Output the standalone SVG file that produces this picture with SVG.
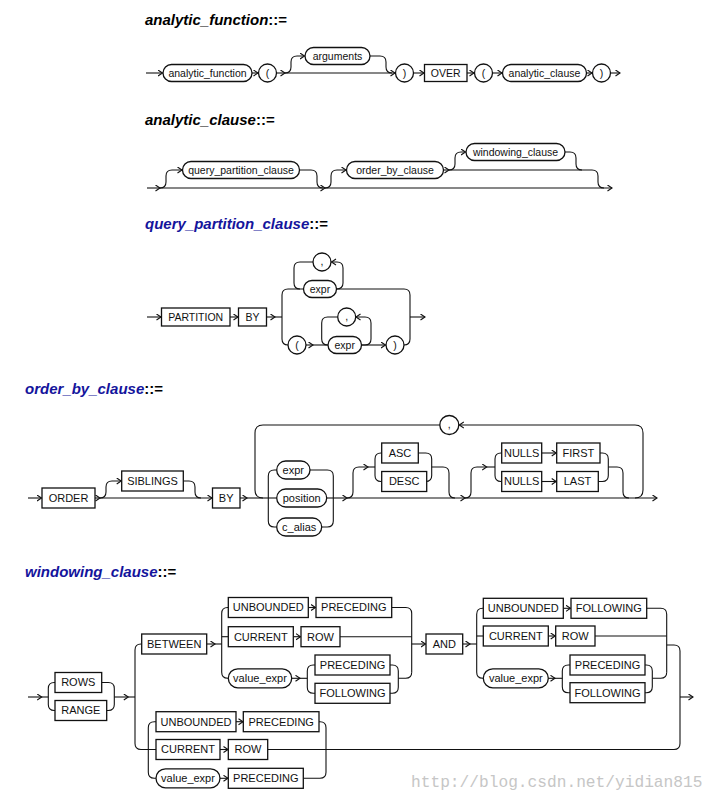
<svg xmlns="http://www.w3.org/2000/svg" width="717" height="802" viewBox="0 0 717 802">
<style>
.l{fill:none;stroke:#111;stroke-width:1.1}
.a{marker-end:url(#ar)}
.b{fill:#fff;stroke:#111;stroke-width:1.3}
.t{font-family:"Liberation Sans",Arial,sans-serif;font-size:10.5px;text-anchor:middle;fill:#111}
.u{font-family:"Liberation Sans",Arial,sans-serif;font-size:11px;text-anchor:middle;fill:#111}
.h{font-family:"Liberation Sans",Arial,sans-serif;font-size:15px;font-weight:bold;font-style:italic;fill:#000}
.bl{fill:#14149c}
.op{font-style:normal;fill:#000}
.wm{font-family:"Liberation Mono","DejaVu Sans Mono",monospace;font-size:16.2px;fill:#c6c6c6}
</style>
<defs>
<marker id="ar" markerUnits="userSpaceOnUse" markerWidth="8" markerHeight="8" refX="5" refY="3.5" orient="auto">
<path d="M0.5,0.5 L5,3.5 L0.5,6.5" fill="none" stroke="#111" stroke-width="1.1"/>
</marker>
</defs>
<rect width="717" height="802" fill="#fff"/>

<!-- titles -->
<text class="h" x="145" y="25">analytic_function<tspan class="op">::=</tspan></text>
<text class="h" x="145" y="124.5">analytic_clause<tspan class="op">::=</tspan></text>
<text class="h" x="145" y="229"><tspan class="bl">query_partition_clause</tspan><tspan class="op">::=</tspan></text>
<text class="h" x="25" y="394"><tspan class="bl">order_by_clause</tspan><tspan class="op">::=</tspan></text>
<text class="h" x="25" y="577"><tspan class="bl">windowing_clause</tspan><tspan class="op">::=</tspan></text>

<g id="connectors">
<!-- section 1 -->
<path class="l a" d="M146,73 H162.5"/>
<path class="l a" d="M252,73 H258"/>
<path class="l a" d="M276.5,73 H285"/>
<path class="l a" d="M285,73 H395"/>
<path class="l a" d="M285,73 Q291,73 291,67 V62 Q291,56 297,56 H304.5"/>
<path class="l" d="M370,56 H380 Q386,56 386,62 V67 Q386,73 392,73"/>
<path class="l a" d="M413.5,73 H424"/>
<path class="l a" d="M467,73 H474"/>
<path class="l a" d="M492.5,73 H502"/>
<path class="l a" d="M586.5,73 H592"/>
<path class="l a" d="M610.5,73 H620"/>
<!-- section 2 -->
<path class="l a" d="M147,188 H160"/>
<path class="l a" d="M160,188 H325"/>
<path class="l a" d="M325,188 H612"/>
<path class="l a" d="M160,188 Q166,188 166,182 V176 Q166,170 172,170 H182"/>
<path class="l" d="M299.5,170 H311 Q317,170 317,176 V182 Q317,188 323,188"/>
<path class="l a" d="M325,188 Q331,188 331,182 V176 Q331,170 337,170 H346"/>
<path class="l a" d="M443.5,170 H449"/>
<path class="l" d="M449,170 H592 Q598,170 598,176 V182 Q598,188 604,188"/>
<path class="l a" d="M449,170 Q455,170 455,164 V158 Q455,152 461,152 H465.5"/>
<path class="l" d="M565,152 H570 Q576,152 576,158 V164 Q576,170 582,170"/>
<!-- section 3 -->
<path class="l a" d="M147,317 H161"/>
<path class="l a" d="M230,317 H238"/>
<path class="l a" d="M266.5,317 H275"/>
<path class="l" d="M275,317 H282"/>
<path class="l" d="M303.5,289 H288 Q282,289 282,295 V339 Q282,345 288,345"/>
<path class="l a" d="M306,345 H313"/>
<path class="l" d="M313,345 H328"/>
<path class="l" d="M336.5,289 H404 Q410,289 410,295 V339 Q410,345 404,345"/>
<path class="l a" d="M410,317 H425"/>
<path class="l a" d="M336.5,289 Q343,289 343,283 V268 Q343,262 337,262 H331.5"/>
<path class="l" d="M313,262 H300 Q294,262 294,268 V283 Q294,289 300,289"/>
<path class="l a" d="M361.5,345 H365 Q371,345 371,339 V323 Q371,317 365,317 H356"/>
<path class="l" d="M337.7,317 H327.7 Q321.7,317 321.7,323 V339 Q321.7,345 327.7,345"/>
<path class="l a" d="M361.5,345 H385.5"/>
<!-- section 4 -->
<path class="l a" d="M28,498 H41.5"/>
<path class="l a" d="M95,498 H100"/>
<path class="l a" d="M100,498 H212"/>
<path class="l a" d="M100,498 Q106,498 106,492 V487 Q106,481 112,481 H121.2"/>
<path class="l" d="M183.3,481 H189 Q195,481 195,487 V492 Q195,498 201,498"/>
<path class="l a" d="M240,498 H247"/>
<path class="l" d="M247,498 H276.7"/>
<path class="l" d="M276.7,470 H274.3 Q268.3,470 268.3,476 V521 Q268.3,527 274.3,527 H276.7"/>
<path class="l" d="M310,470 H327.3 Q333.3,470 333.3,476 V521 Q333.3,527 327.3,527 H321.7"/>
<path class="l a" d="M326.7,498 H347"/>
<path class="l" d="M439.8,425 H263 Q255,425 255,433 V490 Q255,498 263,498"/>
<path class="l a" d="M635,498 Q643,498 643,490 V433 Q643,425 635,425 H459.3"/>
<path class="l a" d="M347,498 H465"/>
<path class="l a" d="M347,498 Q353,498 353,492 V473 Q353,467 359,467 H368"/>
<path class="l" d="M368,467 H375"/>
<path class="l" d="M381.7,453 H381 Q375,453 375,459 V475.5 Q375,481.5 381,481.5 H381.7"/>
<path class="l" d="M418.3,453 H425.7 Q431.7,453 431.7,459 V475.5 Q431.7,481.5 425.7,481.5 H426.7"/>
<path class="l" d="M431.7,467 H443 Q449,467 449,473 V492 Q449,498 455,498"/>
<path class="l a" d="M465,498 H657"/>
<path class="l a" d="M465,498 Q471,498 471,492 V473 Q471,467 477,467 H486.7"/>
<path class="l" d="M486.7,467 H495"/>
<path class="l" d="M501.7,453 H501 Q495,453 495,459 V475.5 Q495,481.5 501,481.5 H501.7"/>
<path class="l a" d="M541.7,453 H556.2"/>
<path class="l a" d="M541.7,481.5 H556.2"/>
<path class="l" d="M600,453 H602.3 Q608.3,453 608.3,459 V475.5 Q608.3,481.5 602.3,481.5 H598.3"/>
<path class="l" d="M608.3,467 H617 Q623,467 623,473 V492 Q623,498 629,498"/>
<!-- section 5 -->
<path class="l a" d="M28,697 H41.7"/>
<path class="l" d="M41.7,697 H48.3"/>
<path class="l" d="M55,682.5 H54.3 Q48.3,682.5 48.3,688.5 V704.5 Q48.3,710.5 54.3,710.5 H55"/>
<path class="l" d="M101.7,682.5 H108.3 Q114.3,682.5 114.3,688.5 V704.5 Q114.3,710.5 108.3,710.5 H106.7"/>
<path class="l a" d="M114.3,697 H128.3"/>
<path class="l" d="M128.3,697 H135"/>
<path class="l" d="M141.7,644 H141 Q135,644 135,650 V743.5 Q135,749.5 141,749.5 H156"/>
<path class="l" d="M156,721.7 H154.3 Q148.3,721.7 148.3,727.7 V772.3 Q148.3,778.3 154.3,778.3 H156"/>
<path class="l a" d="M236,721.7 H243"/>
<path class="l a" d="M220,749.5 H228"/>
<path class="l a" d="M220,778.3 H228"/>
<path class="l" d="M319,721.7 H320 Q326,721.7 326,727.7 V772.3 Q326,778.3 320,778.3 H303.3"/>
<path class="l" d="M666.7,645 H674 Q680,645 680,651 V743.5 Q680,749.5 674,749.5 H267.7"/>
<path class="l a" d="M680,697 H693"/>
<path class="l a" d="M206.7,644 H215"/>
<path class="l" d="M215,644 H221.7"/>
<path class="l" d="M228.3,607.5 H227.7 Q221.7,607.5 221.7,613.5 V672.3 Q221.7,678.3 227.7,678.3 H228.3"/>
<path class="l" d="M221.7,636.7 H228.3"/>
<path class="l a" d="M308.3,607.5 H315.5"/>
<path class="l a" d="M293.3,636.7 H300.5"/>
<path class="l" d="M340,636.7 H411.7"/>
<path class="l a" d="M291.7,678.3 H300"/>
<path class="l" d="M300,678.3 H307.3"/>
<path class="l" d="M315,665 H313.3 Q307.3,665 307.3,671 V687.3 Q307.3,693.3 313.3,693.3 H315"/>
<path class="l" d="M390,665 H392.3 Q398.3,665 398.3,671 V687.3 Q398.3,693.3 392.3,693.3 H390"/>
<path class="l" d="M398.3,678.3 H405.7 Q411.7,678.3 411.7,672.3"/>
<path class="l" d="M391.7,607.5 H405.7 Q411.7,607.5 411.7,613.5 V672.3"/>
<path class="l a" d="M411.7,644 H425.5"/>
<path class="l a" d="M462.7,644 H470"/>
<path class="l" d="M470,644 H476.7"/>
<path class="l" d="M483.3,608.3 H482.7 Q476.7,608.3 476.7,614.3 V672.3 Q476.7,678.3 482.7,678.3 H483.3"/>
<path class="l" d="M476.7,636 H483.3"/>
<path class="l a" d="M563.3,608.3 H570.5"/>
<path class="l a" d="M548.3,636 H555.2"/>
<path class="l" d="M595,636 H666.7"/>
<path class="l a" d="M548.3,678.3 H555"/>
<path class="l" d="M555,678.3 H562.3"/>
<path class="l" d="M570,665 H568.3 Q562.3,665 562.3,671 V686.7 Q562.3,692.7 568.3,692.7 H570"/>
<path class="l" d="M645,665 H646.3 Q652.3,665 652.3,671 V686.7 Q652.3,692.7 646.3,692.7 H645"/>
<path class="l" d="M652.3,678.3 H660.7 Q666.7,678.3 666.7,672.3"/>
<path class="l" d="M646.7,608.3 H660.7 Q666.7,608.3 666.7,614.3 V672.3"/>
</g>

<!-- section 1 nodes -->
<g id="af_analytic_function"><rect class="b" x="163" y="64.5" width="89" height="17" rx="8.5"/><text class="t" x="207.5" y="76.8">analytic_function</text></g>
<g id="af_lparen1"><circle class="b" cx="267.5" cy="73" r="9"/><text class="t" x="267.5" y="76.8">(</text></g>
<g id="af_arguments"><rect class="b" x="305" y="47.5" width="65" height="17" rx="8.5"/><text class="t" x="337.5" y="59.8">arguments</text></g>
<g id="af_rparen1"><circle class="b" cx="404.5" cy="73" r="9"/><text class="t" x="404.5" y="76.8">)</text></g>
<g id="af_over"><rect class="b" x="424.5" y="64.5" width="42.5" height="17"/><text class="t" x="445.7" y="76.8">OVER</text></g>
<g id="af_lparen2"><circle class="b" cx="483.5" cy="73" r="9"/><text class="t" x="483.5" y="76.8">(</text></g>
<g id="af_analytic_clause"><rect class="b" x="502.5" y="64.5" width="84" height="17" rx="8.5"/><text class="t" x="544.5" y="76.8">analytic_clause</text></g>
<g id="af_rparen2"><circle class="b" cx="601.5" cy="73" r="9"/><text class="t" x="601.5" y="76.8">)</text></g>

<!-- section 2 nodes -->
<g id="ac_query_partition_clause"><rect class="b" x="182.5" y="161.5" width="117" height="17" rx="8.5"/><text class="t" x="241" y="173.8">query_partition_clause</text></g>
<g id="ac_order_by_clause"><rect class="b" x="346.5" y="161.5" width="97" height="17" rx="8.5"/><text class="t" x="395" y="173.8">order_by_clause</text></g>
<g id="ac_windowing_clause"><rect class="b" x="466" y="143.5" width="99" height="17" rx="8.5"/><text class="t" x="515.5" y="155.8">windowing_clause</text></g>

<!-- section 3 nodes -->
<g id="qp_partition"><rect class="b" x="161.5" y="308" width="68.5" height="18"/><text class="t" x="195.7" y="320.8">PARTITION</text></g>
<g id="qp_by"><rect class="b" x="238.5" y="308" width="28" height="18"/><text class="t" x="252.5" y="320.8">BY</text></g>
<g id="qp_expr1"><rect class="b" x="303.5" y="280.5" width="33" height="17" rx="8.5"/><text class="t" x="320" y="292.8">expr</text></g>
<g id="qp_comma1"><circle class="b" cx="322" cy="262" r="9"/><text class="t" x="322" y="264.5">,</text></g>
<g id="qp_lparen"><circle class="b" cx="297" cy="345" r="9"/><text class="t" x="297" y="348.8">(</text></g>
<g id="qp_expr2"><rect class="b" x="328" y="336.5" width="33.5" height="17" rx="8.5"/><text class="t" x="344.7" y="348.8">expr</text></g>
<g id="qp_comma2"><circle class="b" cx="346.7" cy="317" r="9"/><text class="t" x="346.7" y="319.5">,</text></g>
<g id="qp_rparen"><circle class="b" cx="395" cy="345" r="9"/><text class="t" x="395" y="348.8">)</text></g>

<!-- section 4 nodes -->
<g id="ob_order"><rect class="b" x="42" y="488" width="53" height="20"/><text class="u" x="68.5" y="501.8">ORDER</text></g>
<g id="ob_siblings"><rect class="b" x="121.7" y="471" width="61.6" height="20"/><text class="u" x="152.5" y="484.8">SIBLINGS</text></g>
<g id="ob_by"><rect class="b" x="212.5" y="488" width="27.5" height="20"/><text class="u" x="226.2" y="501.8">BY</text></g>
<g id="ob_expr"><rect class="b" x="276.7" y="461" width="33.3" height="18" rx="9"/><text class="u" x="293.3" y="473.8">expr</text></g>
<g id="ob_position"><rect class="b" x="276.7" y="489" width="50" height="18" rx="9"/><text class="u" x="301.7" y="501.8">position</text></g>
<g id="ob_c_alias"><rect class="b" x="276.7" y="518" width="45" height="18" rx="9"/><text class="u" x="299.2" y="530.8">c_alias</text></g>
<g id="ob_comma"><circle class="b" cx="449.3" cy="425" r="9.5"/><text class="t" x="449.3" y="427.5">,</text></g>
<g id="ob_asc"><rect class="b" x="381.7" y="443" width="36.6" height="20"/><text class="u" x="400" y="456.8">ASC</text></g>
<g id="ob_desc"><rect class="b" x="381.7" y="471.5" width="45" height="20"/><text class="u" x="404.2" y="485.3">DESC</text></g>
<g id="ob_nulls1"><rect class="b" x="501.7" y="443" width="40" height="20"/><text class="u" x="521.7" y="456.8">NULLS</text></g>
<g id="ob_first"><rect class="b" x="556.7" y="443" width="43.3" height="20"/><text class="u" x="578.3" y="456.8">FIRST</text></g>
<g id="ob_nulls2"><rect class="b" x="501.7" y="471.5" width="40" height="20"/><text class="u" x="521.7" y="485.3">NULLS</text></g>
<g id="ob_last"><rect class="b" x="556.7" y="471.5" width="41.6" height="20"/><text class="u" x="577.5" y="485.3">LAST</text></g>

<!-- section 5 nodes -->
<g id="wc_rows"><rect class="b" x="55" y="672.5" width="46.7" height="20"/><text class="u" x="78.3" y="686.3">ROWS</text></g>
<g id="wc_range"><rect class="b" x="55" y="700.5" width="51.7" height="20"/><text class="u" x="80.8" y="714.3">RANGE</text></g>
<g id="wc_between"><rect class="b" x="141.7" y="634" width="65" height="20"/><text class="u" x="174.2" y="647.8">BETWEEN</text></g>
<g id="wc_b_unbounded"><rect class="b" x="228.3" y="597.5" width="80" height="20"/><text class="u" x="268.3" y="611.3">UNBOUNDED</text></g>
<g id="wc_b_preceding1"><rect class="b" x="316" y="597.5" width="75.7" height="20"/><text class="u" x="353.8" y="611.3">PRECEDING</text></g>
<g id="wc_b_current"><rect class="b" x="228.3" y="626.7" width="65" height="20"/><text class="u" x="260.8" y="640.5">CURRENT</text></g>
<g id="wc_b_row"><rect class="b" x="301" y="626.7" width="39" height="20"/><text class="u" x="320.5" y="640.5">ROW</text></g>
<g id="wc_b_value_expr"><rect class="b" x="228.3" y="668.8" width="63.4" height="19" rx="9.5"/><text class="u" x="260" y="682.1">value_expr</text></g>
<g id="wc_b_preceding2"><rect class="b" x="315" y="655" width="75" height="20"/><text class="u" x="352.5" y="668.8">PRECEDING</text></g>
<g id="wc_b_following"><rect class="b" x="315" y="683.3" width="75" height="20"/><text class="u" x="352.5" y="697.1">FOLLOWING</text></g>
<g id="wc_and"><rect class="b" x="426" y="634" width="36.7" height="20"/><text class="u" x="444.3" y="647.8">AND</text></g>
<g id="wc_a_unbounded"><rect class="b" x="483.3" y="598.3" width="80" height="20"/><text class="u" x="523.3" y="612.1">UNBOUNDED</text></g>
<g id="wc_a_following1"><rect class="b" x="571" y="598.3" width="75.7" height="20"/><text class="u" x="608.8" y="612.1">FOLLOWING</text></g>
<g id="wc_a_current"><rect class="b" x="483.3" y="626" width="65" height="20"/><text class="u" x="515.8" y="639.8">CURRENT</text></g>
<g id="wc_a_row"><rect class="b" x="555.7" y="626" width="39.3" height="20"/><text class="u" x="575.3" y="639.8">ROW</text></g>
<g id="wc_a_value_expr"><rect class="b" x="483.3" y="668.8" width="65" height="19" rx="9.5"/><text class="u" x="515.8" y="682.1">value_expr</text></g>
<g id="wc_a_preceding"><rect class="b" x="570" y="655" width="75" height="20"/><text class="u" x="607.5" y="668.8">PRECEDING</text></g>
<g id="wc_a_following2"><rect class="b" x="570" y="682.7" width="75" height="20"/><text class="u" x="607.5" y="696.5">FOLLOWING</text></g>
<g id="wc_l_unbounded"><rect class="b" x="156" y="711.7" width="80" height="20"/><text class="u" x="196" y="725.5">UNBOUNDED</text></g>
<g id="wc_l_preceding1"><rect class="b" x="243.3" y="711.7" width="75.7" height="20"/><text class="u" x="281.2" y="725.5">PRECEDING</text></g>
<g id="wc_l_current"><rect class="b" x="156" y="739.5" width="64" height="20"/><text class="u" x="188" y="753.3">CURRENT</text></g>
<g id="wc_l_row"><rect class="b" x="228.3" y="739.5" width="39.4" height="20"/><text class="u" x="248" y="753.3">ROW</text></g>
<g id="wc_l_value_expr"><rect class="b" x="156" y="768.8" width="64" height="19" rx="9.5"/><text class="u" x="188" y="782.1">value_expr</text></g>
<g id="wc_l_preceding2"><rect class="b" x="228.3" y="768.3" width="75" height="20"/><text class="u" x="265.8" y="782.1">PRECEDING</text></g>

<text class="wm" x="411" y="787">http://blog.csdn.net/yidian815</text>
</svg>
